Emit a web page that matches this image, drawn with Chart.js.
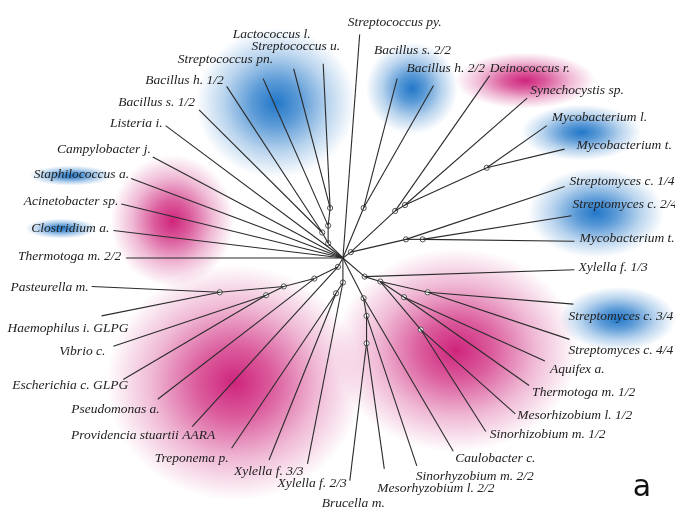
<!DOCTYPE html>
<html>
<head>
<meta charset="utf-8">
<script src="https://cdn.jsdelivr.net/npm/chart.js@4/dist/chart.umd.min.js"></script>
<style>
  html, body { margin: 0; padding: 0; background: #fff; }
  #tree { display: block; }
</style>
</head>
<body>
<canvas id="tree" width="675" height="515"></canvas>
<script>
// tree data: internal nodes + leaves, in plot units (x right, y down)
const nodeIds     = ['C', 'A1', 'A2', 'A3', 'A4', 'B1', 'B2', 'B3', 'B4', 'B5', 'B6', 'B7',
                     'D1', 'D2', 'D3', 'D4', 'D5', 'D6', 'D7', 'D8',
                     'E1', 'E2', 'E3', 'E4', 'E5', 'E6', 'E7'];
const nodeX       = [343, 330, 328, 322, 328, 364, 489, 406, 396, 424, 407, 351,
                     365, 381, 429, 405, 422, 364, 367, 367,
                     218, 265, 283, 314, 338, 343, 336];
const nodeY       = [258, 207, 225, 232, 243, 207, 166, 204, 210, 239, 239, 252,
                     277, 282, 293, 298, 331, 299, 317, 345,
                     293, 296, 287, 279, 267, 283, 294];
const nodeParent  = [null, 'A2', 'A4', 'A4', 'C', 'C', 'B3', 'B4', 'B7', 'B6', 'B7', 'C',
                     'C', 'D1', 'D2', 'D2', 'D2', 'C', 'D6', 'D7',
                     'E3', 'E3', 'E4', 'E5', 'C', 'C', 'E6'];

const leafNames = [
  'Lactococcus l.', 'Streptococcus u.', 'Streptococcus pn.', 'Bacillus h. 1/2', 'Bacillus s. 1/2',
  'Listeria i.', 'Campylobacter j.', 'Staphilococcus a.', 'Acinetobacter sp.', 'Clostridium a.',
  'Thermotoga m. 2/2', 'Streptococcus py.', 'Bacillus s. 2/2', 'Bacillus h. 2/2', 'Deinococcus r.',
  'Synechocystis sp.', 'Mycobacterium l.', 'Mycobacterium t.', 'Streptomyces c. 1/4', 'Streptomyces c. 2/4',
  'Mycobacterium t.', 'Xylella f. 1/3', 'Streptomyces c. 3/4', 'Streptomyces c. 4/4', 'Aquifex a.',
  'Thermotoga m. 1/2', 'Mesorhizobium l. 1/2', 'Sinorhizobium m. 1/2', 'Caulobacter c.', 'Sinorhyzobium m. 2/2',
  'Mesorhyzobium l. 2/2', 'Brucella m.', 'Xylella f. 2/3', 'Xylella f. 3/3', 'Treponema p.',
  'Providencia stuartii AARA', 'Pseudomonas a.', 'Escherichia c. GLPG', 'Vibrio c.', 'Haemophilus i. GLPG',
  'Pasteurella m.'
];
const leafX = [293, 323, 262, 225, 197, 163, 150, 128, 118, 110,
               123, 360, 398, 435, 492, 530, 550, 568, 568, 575,
               578, 578, 577, 573, 548, 532, 518, 488, 455, 418,
               385, 350, 307, 268, 230, 190, 155, 120, 110, 98,
               88];
const leafY = [65, 60, 75, 83, 107, 123, 155, 177, 203, 230,
               258, 30, 75, 82, 72, 95, 123, 147, 185, 215,
               241, 270, 305, 341, 363, 388, 417, 435, 455, 470,
               473, 485, 468, 464, 452, 430, 402, 382, 348, 317,
               287];
const leafParent = ['A1', 'A1', 'A2', 'A3', 'A3', 'C', 'C', 'C', 'C', 'C',
                    'C', 'C', 'B1', 'B1', 'B4', 'B3', 'B2', 'B2', 'B6', 'B5',
                    'B5', 'D1', 'D3', 'D3', 'D4', 'D4', 'D5', 'D5', 'D6', 'D7',
                    'D8', 'D8', 'E6', 'E7', 'E7', 'E5', 'E4', 'E2', 'E2', 'E1',
                    'E1'];

// label placement relative to the leaf tip: [align, dx, dy]
const labelPlace = [
  ['right', 17, -34], ['right', 17, -17], ['right', 10, -19], ['right', -3, -6], ['right', -4, -7],
  ['right', -3, -2], ['right', -2, -8], ['right', -2, -4], ['right', -3, -3], ['right', -4, -2],
  ['right', -5, -2], ['left', -12, -12], ['left', -23, -28], ['left', -27, -17], ['left', 0, -7],
  ['left', 3, -8], ['left', 5, -8], ['left', 12, -4], ['left', 5, -5], ['left', 1, -11],
  ['left', 5, -3], ['left', 4, -2], ['left', -5, 12], ['left', -1, 11], ['left', 5, 9],
  ['left', 3, 7], ['left', 2, 2], ['left', 4, 3], ['left', 2, 7], ['left', -1, 11],
  ['left', -7, 20], ['left', -28, 23], ['left', -30, 20], ['left', -35, 11], ['right', -3, 10],
  ['right', 23, 9], ['right', 2, 10], ['right', 5, 6], ['right', -8, 5], ['right', 27, 13],
  ['right', -3, 1]
];

// soft colour clouds behind the tree: [cx, cy, rx, ry, colour]
const BLUE = '22,112,198';
const MAGENTA = '204,24,116';
const clouds = [
  [275, 100, 80, 75, BLUE],
  [413, 85, 46, 46, BLUE],
  [528, 77, 70, 28, MAGENTA],
  [585, 130, 60, 28, BLUE],
  [600, 212, 68, 45, BLUE],
  [622, 320, 58, 32, BLUE],
  [67, 174, 42, 10, BLUE],
  [57, 228, 36, 10, BLUE],
  [170, 220, 62, 66, MAGENTA],
  [233, 385, 128, 118, MAGENTA],
  [458, 352, 122, 102, MAGENTA]
];

const idx = id => nodeIds.indexOf(id);
const LINE = '#2b2b2b';

const datasets = [];
nodeIds.forEach((id, i) => {
  if (!nodeParent[i]) return;
  const p = idx(nodeParent[i]);
  datasets.push({
    data: [{ x: nodeX[p], y: nodeY[p] }, { x: nodeX[i], y: nodeY[i] }],
    showLine: true, borderColor: LINE, borderWidth: 1.1, pointRadius: 0
  });
});
leafNames.forEach((name, i) => {
  const p = idx(leafParent[i]);
  datasets.push({
    data: [{ x: nodeX[p], y: nodeY[p] }, { x: leafX[i], y: leafY[i] }],
    showLine: true, borderColor: LINE, borderWidth: 1.1, pointRadius: 0
  });
});
datasets.push({
  data: nodeIds.slice(1).map(id => ({ x: nodeX[idx(id)], y: nodeY[idx(id)] })),
  showLine: false, pointRadius: 2.6, pointBackgroundColor: '#fff',
  pointBorderColor: '#555', pointBorderWidth: 1
});

const backdrop = {
  id: 'backdrop',
  beforeDraw(chart) {
    const ctx = chart.ctx;
    const sx = chart.scales.x, sy = chart.scales.y;
    ctx.save();
    ctx.fillStyle = '#fff';
    ctx.fillRect(0, 0, chart.width, chart.height);
    clouds.forEach(([cx, cy, rx, ry, c]) => {
      const px = sx.getPixelForValue(cx), py = sy.getPixelForValue(cy);
      ctx.save();
      ctx.translate(px, py);
      ctx.scale(rx / ry, 1);
      const g = ctx.createRadialGradient(0, 0, 0, 0, 0, ry);
      g.addColorStop(0, `rgba(${c},0.95)`);
      g.addColorStop(0.3, `rgba(${c},0.7)`);
      g.addColorStop(0.65, `rgba(${c},0.3)`);
      g.addColorStop(1, `rgba(${c},0)`);
      ctx.fillStyle = g;
      ctx.beginPath();
      ctx.arc(0, 0, ry, 0, Math.PI * 2);
      ctx.fill();
      ctx.restore();
    });
    ctx.restore();
  }
};

const leafLabels = {
  id: 'leafLabels',
  afterDatasetsDraw(chart) {
    const ctx = chart.ctx;
    const sx = chart.scales.x, sy = chart.scales.y;
    ctx.save();
    ctx.fillStyle = '#222';
    ctx.font = 'italic 13.5px "Liberation Serif", "DejaVu Serif", serif';
    ctx.textBaseline = 'middle';
    leafNames.forEach((name, i) => {
      const [align, dx, dy] = labelPlace[i];
      ctx.textAlign = align;
      ctx.fillText(name, sx.getPixelForValue(leafX[i]) + dx, sy.getPixelForValue(leafY[i]) + dy);
    });
    ctx.font = '30px "DejaVu Sans", "Liberation Sans", sans-serif';
    ctx.textAlign = 'center';
    ctx.fillStyle = '#111';
    ctx.fillText('a', 642, 488);
    ctx.restore();
  }
};

new Chart(document.getElementById('tree'), {
  type: 'scatter',
  data: { datasets },
  options: {
    responsive: false,
    animation: false,
    layout: { padding: 0 },
    scales: {
      x: { type: 'linear', min: 0, max: 675, display: false },
      y: { type: 'linear', min: 0, max: 515, reverse: true, display: false }
    },
    plugins: { legend: { display: false }, tooltip: { enabled: false } }
  },
  plugins: [backdrop, leafLabels]
});
</script>
</body>
</html>
